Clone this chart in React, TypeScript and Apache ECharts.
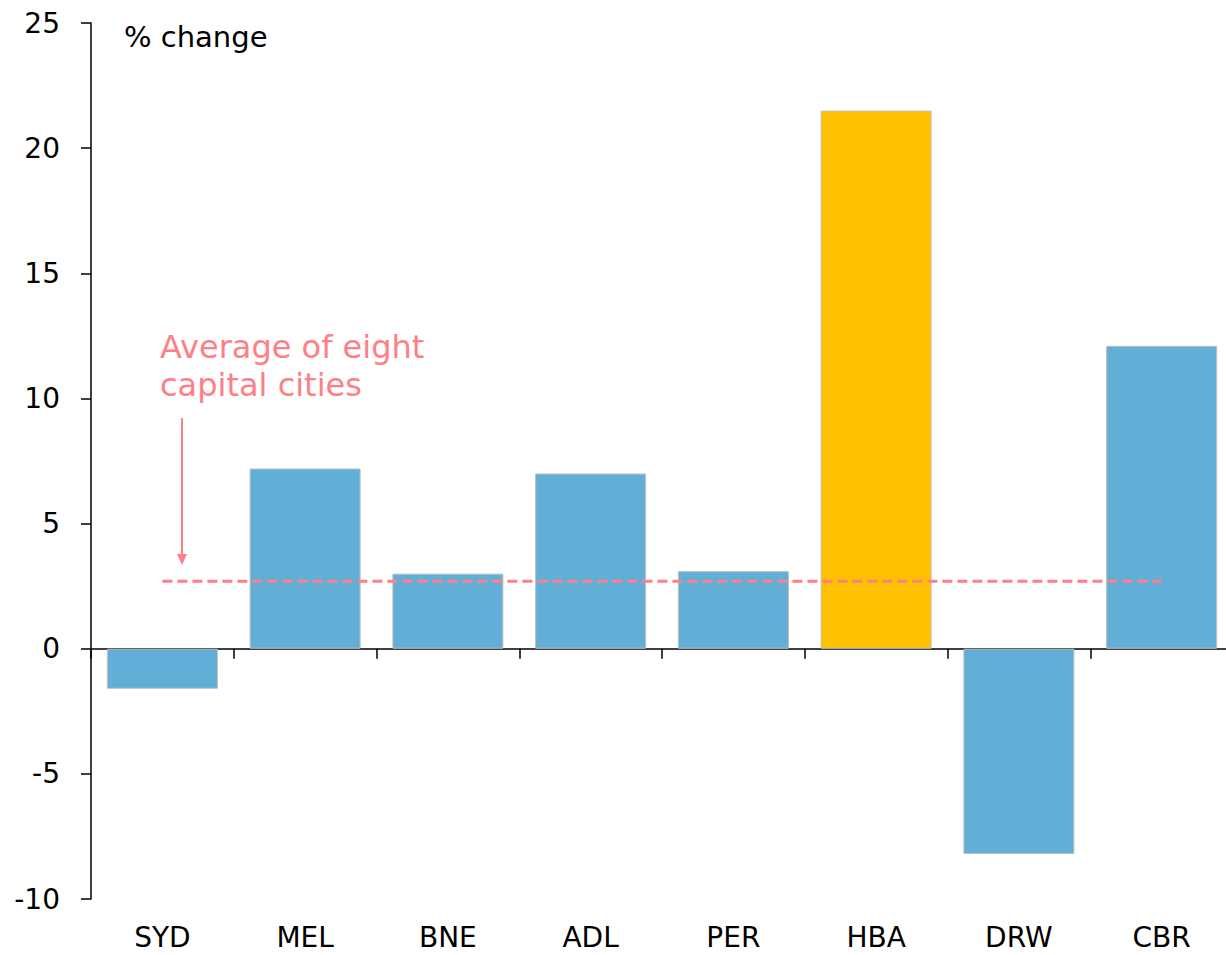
import React, { useEffect, useRef } from "react";
import * as echarts from "echarts";

const categories = ["SYD", "MEL", "BNE", "ADL", "PER", "HBA", "DRW", "CBR"];
const changeValues = [-1.6, 7.2, 3.0, 7.0, 3.1, 21.5, -8.2, 12.1];
const highlightCity = "HBA";
const averageValue = 2.7;
const averageValues = categories.map(() => averageValue);

const FONT = "'DejaVu Sans', sans-serif";
const BLUE = "#61AED6";
const GOLD = "#FFC000";
const PINK = "#FF7F86";

export default function App() {
  const ref = useRef<HTMLDivElement>(null);
  useEffect(() => {
    if (!ref.current) return;
    const chart = echarts.init(ref.current, undefined, { renderer: "svg" });
    chart.setOption({
      animation: false,
      backgroundColor: "#ffffff",
      grid: { left: 91, right: 0, top: 23, bottom: 56 },
      xAxis: [
        {
          type: "category",
          data: categories,
          position: "bottom",
          axisLine: { onZero: true, lineStyle: { color: "#000", width: 1.5 } },
          axisTick: { show: true, length: 10, inside: false, lineStyle: { color: "#000", width: 1.5 } },
          axisLabel: { show: false },
        },
        {
          type: "category",
          data: categories,
          position: "bottom",
          axisLine: { show: false, onZero: false },
          axisTick: { show: false },
          axisLabel: { show: true, color: "#000", fontFamily: FONT, fontSize: 28, margin: 24 },
        },
      ],
      yAxis: {
        type: "value",
        min: -10,
        max: 25,
        interval: 5,
        splitLine: { show: false },
        axisLine: { show: true, lineStyle: { color: "#000", width: 1.5 } },
        axisTick: { show: true, length: 10, inside: false, lineStyle: { color: "#000", width: 1.5 } },
        axisLabel: { color: "#000", fontFamily: FONT, fontSize: 28, margin: 31 },
      },
      graphic: [
        {
          type: "text",
          left: 124,
          top: 22,
          style: { text: "% change", fill: "#000", font: `29px ${FONT}` },
        },
        {
          type: "text",
          left: 160,
          top: 328,
          style: {
            text: "Average of eight\ncapital cities",
            fill: PINK,
            font: `32px ${FONT}`,
            lineHeight: 38,
          },
        },
        {
          type: "line",
          shape: { x1: 182, y1: 418, x2: 182, y2: 556 },
          style: { stroke: PINK, lineWidth: 2 },
        },
        {
          type: "polygon",
          shape: { points: [[177, 554], [187, 554], [182, 565]] },
          style: { fill: PINK },
        },
      ],
      series: [
        {
          type: "bar",
          xAxisIndex: 0,
          data: changeValues.map((v, i) => ({
            value: v,
            itemStyle: { color: categories[i] === highlightCity ? GOLD : BLUE },
          })),
          barWidth: 111,
          itemStyle: { borderColor: "#BFBFBF", borderWidth: 1 },
          z: 2,
        },
        {
          type: "line",
          xAxisIndex: 0,
          data: averageValues,
          symbol: "none",
          lineStyle: { color: PINK, width: 3, type: [10, 5] },
          z: 3,
        },
      ],
    });
    return () => chart.dispose();
  }, []);
  return (
    <div
      ref={ref}
      style={{ position: "fixed", left: 0, top: 0, width: 1233, height: 955 }}
    />
  );
}
